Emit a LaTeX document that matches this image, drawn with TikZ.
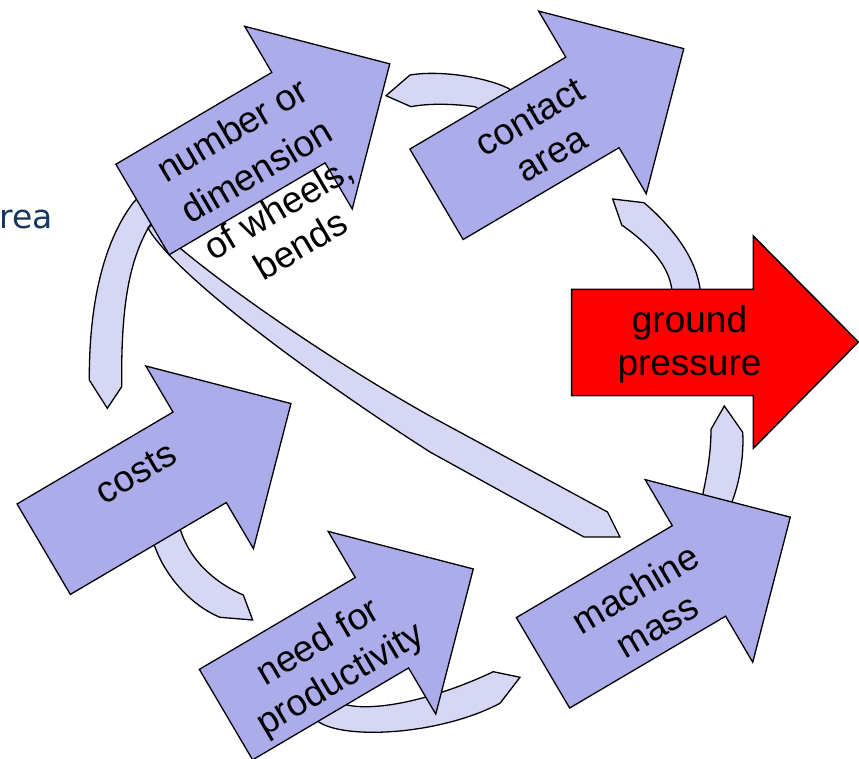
\documentclass[tikz,border=0pt]{standalone}
\usepackage{fontspec}
\setmainfont{Liberation Sans}
\newfontfamily\dejavu{DejaVu Sans}
\definecolor{blueF}{RGB}{172,172,235}
\definecolor{paleF}{RGB}{214,215,245}
\definecolor{navyT}{RGB}{23,55,94}
\tikzset{
  bigarrow/.style={fill=blueF, draw=black, line width=1.3pt, line join=miter},
  redarrow/.style={fill=red, draw=black, line width=1.5pt, line join=miter},
  band/.style={fill=paleF, draw=black, line width=1.3pt, line join=miter},
  lbl/.style={font=\fontsize{37}{43}\selectfont, align=center, rotate=30.5, inner sep=0pt},
}
\newcommand\BlkArrow[2]{%
  \begin{scope}[shift={(#1,#2)}, rotate=30.5]
    \draw[bigarrow] (0,-52.5) -- (181,-52.5) -- (181,-106) -- (287,0) -- (181,106) -- (181,52.5) -- (0,52.5) -- cycle;
  \end{scope}}
\begin{document}
\begin{tikzpicture}[x=1pt,y=-1pt]
\useasboundingbox (0,0) rectangle (859,759);

% cut-off title text
\node[anchor=base west, inner sep=0pt, font=\dejavu\fontsize{33}{40}\selectfont, text=navyT] (title) at (-1,229) {rea};

% pale curved bands
% number -> costs
\draw[band] (145,190) -- (133,203) .. controls (105,240) and (89,300) .. (89.3,380)
  -- (107.3,408.3) -- (121.7,386.7) .. controls (121,310) and (128,262) .. (150,225) -- (160,215) -- cycle;
% long band number -> machine
\draw[band] (175,235) -- (180,248) .. controls (230,290) and (330,360) .. (430,416) -- (607.5,512)
  -- (620,537) -- (584,537) -- (430,452) .. controls (310,375) and (175,275) .. (148,228) -- (165,215) -- cycle;
% costs -> need
\draw[band] (150,538) -- (155,547) .. controls (165,575) and (190,605) .. (220,617.3)
  -- (252.7,620) -- (243.3,595) .. controls (220,585) and (192,565) .. (180.7,530.7) -- (176,520) -- cycle;
% need -> machine
\draw[band] (300,712) -- (318.3,721.7) .. controls (345,740) and (440,735) .. (500,703.3)
  -- (520,677.3) -- (493.3,671.7) .. controls (440,697) and (380,712) .. (347,705) -- (325,695) -- cycle;
% machine -> ground
\draw[band] (701,510) -- (703.3,491.7) .. controls (708,470) and (711,450) .. (711,429.3)
  -- (724.3,406) -- (742.7,432.3) .. controls (744,455) and (740,480) .. (732.7,500) -- (730,512) -- cycle;
% ground / contact
\draw[band] (612.7,199) -- (644,202.7) .. controls (670,225) and (695,255) .. (700,288.3) -- (702,300)
  -- (672,300) -- (671.7,288.3) .. controls (668,265) and (650,245) .. (621.7,225) -- cycle;
% contact / number
\draw[band] (386,95.7) -- (410,75) .. controls (440,70) and (485,77) .. (508.3,88.3) -- (525,100)
  -- (495,118) -- (475,106.7) .. controls (455,104) and (430,103) .. (411,106.7) -- cycle;

% blue block arrows
\BlkArrow{142.5}{209.5}
\BlkArrow{436.5}{194.3}
\BlkArrow{43.7}{549.2}
\BlkArrow{226}{714.6}
\BlkArrow{543}{662.8}

% red arrow
\draw[redarrow] (571.7,289.3) -- (753.3,289.3) -- (753.3,236) -- (858.3,342) -- (753.3,448.3) -- (753.3,395.7) -- (571.7,395.7) -- cycle;

% labels
\node[lbl] (number) at (266,187) {number or\\[5pt]dimension\\of wheels,\\bends};
\node[lbl] (contact) at (541,136) {contact\\area};
\node[lbl] (costs) at (136,473) {costs};
\node[lbl] (need) at (330,662) {need for\\productivity};
\node[lbl] (machine) at (646,607) {machine\\mass};
\node[font=\fontsize{37}{43}\selectfont, align=center, inner sep=0pt] (ground) at (689.5,344) {ground\\pressure};
\end{tikzpicture}
\end{document}
